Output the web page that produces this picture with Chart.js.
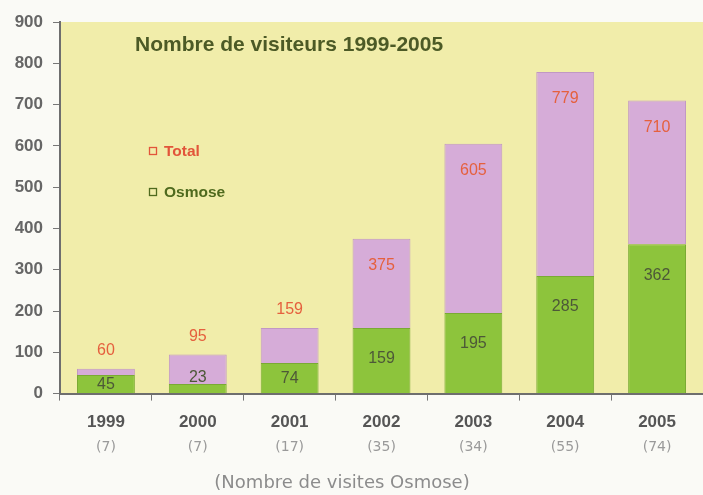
<!DOCTYPE html>
<html>
<head>
<meta charset="utf-8">
<script src="https://cdn.jsdelivr.net/npm/chart.js@4/dist/chart.umd.min.js"></script>
<style>
html,body{margin:0;padding:0;background:#fafaf6;}
#wrap{width:703px;height:495px;position:relative;}
</style>
</head>
<body>
<div id="wrap"><canvas id="c" width="703" height="495"></canvas></div>
<script>
const years = ['1999','2000','2001','2002','2003','2004','2005'];
const visits = ['(7)','(7)','(17)','(35)','(34)','(55)','(74)'];
const osmose = [45, 23, 74, 159, 195, 285, 362];
const total = [60, 95, 159, 375, 605, 779, 710];
const yTicks = [0,100,200,300,400,500,600,700,800,900];
const chartTitle = 'Nombre de visiteurs 1999-2005';
const caption = '(Nombre de visites Osmose)';
const legendItems = [{text:'Total', color:'#e2553a'},{text:'Osmose', color:'#4f6a1e'}];

const rest = total.map((t,i)=>t-osmose[i]);

const bgPlugin = {
  id:'bg',
  beforeDraw(chart){
    const {ctx, chartArea:a} = chart;
    ctx.save();
    ctx.fillStyle = '#f1edaa';
    ctx.fillRect(a.left, a.top, a.right-a.left, a.bottom-a.top);
    ctx.restore();
  }
};

const labelPlugin = {
  id:'labels',
  afterDatasetsDraw(chart){
    const {ctx, chartArea:a} = chart;
    const g = chart.getDatasetMeta(0).data;
    const p = chart.getDatasetMeta(1).data;
    const xs = chart.scales.x;
    ctx.save();
    ctx.textAlign='center';
    ctx.textBaseline='middle';
    ctx.font = '16px "Liberation Sans", Arial, sans-serif';
    // Osmose labels
    g.forEach((el,i)=>{
      const h = el.base - el.y;
      let y;
      if (h < 15) y = el.y - 7;
      else if (h < 60) y = (el.y + el.base)/2 + 1;
      else y = el.y + 31;
      ctx.fillStyle = '#4d5838';
      ctx.fillText(String(osmose[i]), el.x, y);
    });
    // Total labels
    p.forEach((el,i)=>{
      const h = el.base - el.y;
      const y = h > 60 ? el.y + 27 : el.y - 18;
      ctx.fillStyle = '#e5603e';
      ctx.fillText(String(total[i]), el.x, y);
    });
    // visits row
    ctx.font = '14px "DejaVu Sans", sans-serif';
    ctx.fillStyle = '#9a9a9a';
    visits.forEach((v,i)=>{
      ctx.fillText(v, xs.getPixelForValue(i), a.bottom + 54);
    });
    // title
    ctx.textAlign='left';
    ctx.font = 'bold 21px "Liberation Sans", Arial, sans-serif';
    ctx.fillStyle = '#4c5a26';
    ctx.fillText(chartTitle, a.left + 75, a.top + 23);
    // legend
    ctx.font = 'bold 15.5px "Liberation Sans", Arial, sans-serif';
    legendItems.forEach((it,k)=>{
      const y = a.top + 129 + k*41;
      const x = a.left + 89;
      ctx.strokeStyle = it.color;
      ctx.lineWidth = 1.3;
      ctx.strokeRect(x+0.5, y-3.5, 7, 7);
      ctx.fillStyle = it.color;
      ctx.fillText(it.text, x + 15, y+1);
    });
    // caption
    ctx.textAlign='center';
    ctx.font = '18px "DejaVu Sans", sans-serif';
    ctx.fillStyle = '#8c8c8c';
    ctx.fillText(caption, a.left + 282, a.bottom + 90);
    ctx.restore();
  }
};

new Chart(document.getElementById('c'), {
  type:'bar',
  data:{
    labels: years,
    datasets:[
      {label:'Osmose', data: osmose, backgroundColor:'#8dc43c', borderColor:'#7aaa34', borderWidth:1, barPercentage:0.63, categoryPercentage:1},
      {label:'Total', data: rest, backgroundColor:'#d6acd8', borderColor:'#c198c4', borderWidth:1, barPercentage:0.63, categoryPercentage:1}
    ]
  },
  options:{
    responsive:false,
    animation:false,
    devicePixelRatio:1,
    layout:{padding:{top:22, right:0, left:0, bottom:50}},
    plugins:{
      legend:{display:false},
      tooltip:{enabled:false},
      title:{display:false}
    },
    scales:{
      x:{
        stacked:true,
        grid:{display:true, drawOnChartArea:false, drawTicks:true, tickLength:7, color:'#777', offset:true},
        border:{display:true, color:'#6e6e6e', width:2},
        ticks:{color:'#555', font:{family:'"Liberation Sans", Arial, sans-serif', size:17, weight:'bold'}, padding:12}
      },
      y:{
        stacked:true, min:0, max:900,
        afterBuildTicks(s){ s.ticks = yTicks.map(v=>({value:v})); },
        afterFit(s){ s.width = 60; },
        grid:{display:true, drawOnChartArea:false, drawTicks:true, tickLength:7, color:'#777'},
        border:{display:true, color:'#6e6e6e', width:2},
        ticks:{color:'#666', font:{family:'"Liberation Sans", Arial, sans-serif', size:17, weight:'bold'}, padding:10}
      }
    }
  },
  plugins:[bgPlugin, labelPlugin]
});
</script>
</body>
</html>
